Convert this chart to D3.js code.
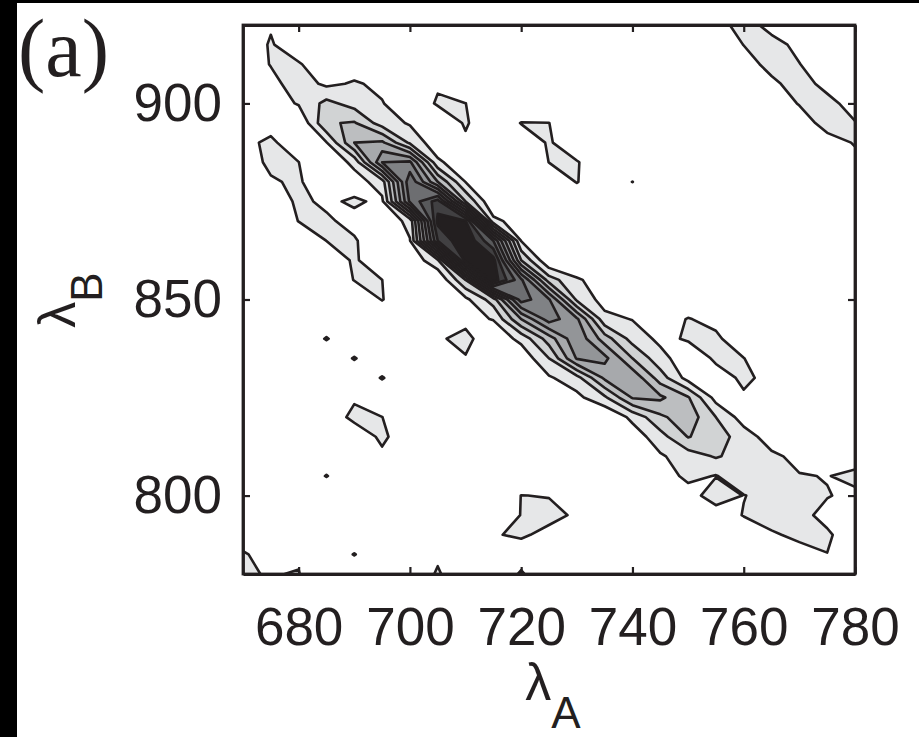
<!DOCTYPE html>
<html>
<head>
<meta charset="utf-8">
<script src="https://cdn.jsdelivr.net/npm/d3@7"></script>
<style>
  body { margin: 0; background: #fff; }
  svg text { font-family: "Liberation Sans", Arial, Helvetica, sans-serif; fill: #231f20; }
</style>
</head>
<body>
<script>
// grid of the map: lambda A along columns, lambda B along rows (top row = 920)
var lambdaA = [670, 675, 680, 685, 690, 695, 700, 705, 710, 715, 720, 725,
               730, 735, 740, 745, 750, 755, 760, 765, 770, 775, 780];
var lambdaB = [920, 915, 910, 905, 900, 895, 890, 885, 880, 875, 870, 865, 860, 855, 850,
               845, 840, 835, 830, 825, 820, 815, 810, 805, 800, 795, 790, 785, 780];

// contour levels
var levels = [1, 2, 3, 4, 5, 6, 7, 8, 9, 10];

var xTicks = [680, 700, 720, 740, 760, 780];
var yTicks = [800, 850, 900];

// values, one row per lambda B
var zRows = [
  [0.3,0.9,0.3,0.3,0.3,0.3,0.3,0.3,0.3,0.3,0.3,0.3,0.3,0.3,0.3,0.3,0.3,0.5,1.5,0.6,0.3,0.3,0.3],
  [0.3,1.1,0.3,0.3,0.3,0.3,0.3,0.3,0.3,0.3,0.3,0.3,0.3,0.3,0.3,0.3,0.3,0.3,1.02,1.4,0.7,0.3,0.3],
  [0.3,1.05,1.1,0.3,0.5,0.3,0.3,0.3,0.3,0.3,0.3,0.3,0.3,0.3,0.3,0.3,0.3,0.3,0.6,1.3,1.03,0.3,0.3],
  [0.3,0.68,1.5,0.8,1.1,0.8,0.3,0.9,0.3,0.3,0.3,0.3,0.3,0.3,0.3,0.3,0.3,0.3,0.3,0.8,1.4,0.7,0.3],
  [0.3,0.4,1.1,2.3,1.6,1.05,0.35,1.1,1.01,0.3,0.3,0.3,0.3,0.3,0.3,0.3,0.3,0.3,0.3,0.5,1.05,1.3,0.6],
  [0.3,0.7,0.0,2.9,3.1,1.5,0.89,0.3,1.1,0.3,1.03,1.01,0.3,0.3,0.3,0.3,0.3,0.3,0.3,0.3,0.6,1.3,1.05],
  [0.8,1.15,0.5,0.95,4.0,4.2,1.8,0.31,0.85,0.3,0.5,1.08,0.5,0.3,0.3,0.3,0.3,0.3,0.3,0.3,0.3,0.7,1.05],
  [0.5,1.2,1.01,0.1,1.3,6.0,6.2,1.2,0.27,0.3,0.3,1.01,1.05,0.5,0.3,0.3,0.3,0.3,0.3,0.3,0.3,0.3,0.8],
  [0.3,0.9,1.15,0.1,0.5,1.5,7.8,4.0,0.98,0.3,0.3,0.5,1.03,0.5,1.01,0.3,0.3,0.3,0.3,0.3,0.3,0.3,0.3],
  [0.3,0.3,1.2,0.82,1.15,0.8,7.2,9.5,3.0,0.0,0.3,0.3,0.5,0.3,0.3,0.3,0.3,0.3,0.3,0.3,0.3,0.3,0.3],
  [0.3,0.3,1.02,1.15,0.7,0.25,1.3,10.3,10.1,1.3,0.46,0.3,0.3,0.3,0.3,0.3,0.3,0.3,0.3,0.3,0.3,0.3,0.3],
  [0.3,0.3,0.3,1.01,1.1,0.3,0.95,9.0,11.0,8.0,0.95,0.3,0.3,0.3,0.3,0.3,0.3,0.3,0.3,0.3,0.3,0.3,0.3],
  [0.3,0.3,0.3,0.5,1.1,0.5,0.2,1.8,10.5,10.4,3.0,0.05,0.3,0.3,0.3,0.3,0.3,0.3,0.3,0.3,0.3,0.3,0.3],
  [0.3,0.3,0.3,0.3,1.03,1.005,0.3,0.06,3.0,10.6,7.2,2.5,1.1,0.63,0.3,0.3,0.3,0.3,0.3,0.3,0.3,0.3,0.3],
  [0.3,0.3,0.3,0.3,0.3,1.04,0.3,0.3,0.75,2.5,7.5,6.1,1.8,0.6,0.3,0.3,0.3,0.3,0.3,0.3,0.3,0.3,0.3],
  [0.3,0.3,0.3,0.3,0.3,0.3,0.3,0.4,0.7,1.05,4.0,6.5,5.2,1.3,0.96,0.5,1.05,0.71,0.3,0.3,0.3,0.3,0.3],
  [0.3,0.3,0.3,1.06,0.3,0.3,0.3,0.86,1.3,0.25,1.3,3.5,5.8,3.5,1.6,0.76,1.1,1.2,0.3,0.3,0.3,0.3,0.3],
  [0.3,0.3,0.3,0.3,1.06,0.3,0.3,0.5,0.93,0.3,0.25,2.0,5.1,5.3,3.0,1.35,0.37,1.15,1.02,0.3,0.3,0.3,0.3],
  [0.3,0.3,0.3,0.3,0.3,1.06,0.3,0.3,0.3,0.3,0.3,0.87,1.6,4.2,4.8,2.5,0.59,0.63,1.15,0.77,0.3,0.3,0.3],
  [0.3,0.3,0.3,0.3,0.9,0.3,0.3,0.3,0.3,0.3,0.3,0.3,0.73,1.8,4.1,4.2,3.1,0.61,0.9,0.3,0.3,0.3,0.3],
  [0.3,0.3,0.3,0.5,1.2,1.01,0.3,0.3,0.3,0.3,0.3,0.3,0.3,0.0,1.27,2.8,3.6,2.0,0.53,0.3,0.3,0.3,0.3],
  [0.3,0.3,0.3,0.3,0.5,1.15,0.5,0.3,0.3,0.3,0.3,0.3,0.3,0.3,0.4,1.6,3.05,2.5,1.5,0.5,0.3,0.3,0.3],
  [0.3,0.3,0.3,0.3,0.3,0.85,0.3,0.3,0.3,0.3,0.3,0.3,0.3,0.3,0.3,0.87,1.5,2.1,1.6,1.2,0.73,0.5,0.6],
  [0.3,0.3,0.3,1.04,0.3,0.3,0.3,0.3,0.3,0.3,0.5,0.5,0.3,0.3,0.3,0.4,1.28,0.95,1.6,1.5,1.05,0.97,1.2],
  [0.3,0.3,0.3,0.3,0.3,0.3,0.3,0.3,0.3,0.4,1.01,0.97,0.5,0.3,0.3,0.3,0.5,1.58,0.97,1.3,1.02,1.035,0.84],
  [0.3,0.3,0.3,0.3,0.3,0.3,0.3,0.3,0.3,0.5,1.02,1.2,0.9,0.3,0.3,0.3,0.3,0.4,1.05,1.35,1.2,0.8,0.5],
  [0.5,0.3,0.3,0.3,0.3,0.3,0.3,0.3,0.3,0.95,1.1,0.8,0.3,0.3,0.3,0.3,0.3,0.3,0.3,0.9,1.18,1.1,0.6],
  [1.1,0.6,0.9,0.3,1.04,0.3,0.3,0.85,0.3,0.3,0.6,0.3,0.3,0.3,0.3,0.3,0.3,0.3,0.3,0.3,0.7,0.99,0.97],
  [1.05,0.97,1.03,0.3,0.3,0.3,0.3,1.1,0.3,0.3,1.1,0.3,0.3,0.3,0.3,0.3,0.3,0.3,0.3,0.3,0.3,0.3,0.3]
];

// grey ramp, lightest for the lowest level
var levelColors = ["#e6e7e8", "#d1d3d4", "#bcbec0", "#a7a9ac", "#939598",
                   "#808285", "#6d6e71", "#58595b", "#414042", "#231f20"];

var width = 919, height = 737;
var plot = { left: 243, right: 855, top: 25, bottom: 574 };

var svg = d3.select("body").append("svg")
  .attr("width", width)
  .attr("height", height);

// black strips at the edge of the scanned figure
svg.append("rect").attr("x", 0).attr("y", 0).attr("width", 17).attr("height", height).attr("fill", "#000");
svg.append("rect").attr("x", 0).attr("y", 0).attr("width", width).attr("height", 3).attr("fill", "#000");

var x = d3.scaleLinear().domain([670, 780]).range([plot.left, plot.right]);
var y = d3.scaleLinear().domain([780, 920]).range([plot.bottom, plot.top]);

var nx = lambdaA.length, ny = lambdaB.length;
var values = [];
zRows.forEach(function(r) { values = values.concat(r); });

// d3.contours puts grid point i at i + 0.5
var gx = d3.scaleLinear().domain([0.5, nx - 0.5]).range([lambdaA[0], lambdaA[nx - 1]]);
var gy = d3.scaleLinear().domain([0.5, ny - 0.5]).range([lambdaB[0], lambdaB[ny - 1]]);

var proj = d3.geoTransform({
  point: function(px, py) { this.stream.point(x(gx(px)), y(gy(py))); }
});
var path = d3.geoPath(proj);

var contours = d3.contours()
  .size([nx, ny])
  .thresholds(levels)(values);

svg.append("clipPath").attr("id", "plotclip")
  .append("rect")
  .attr("x", plot.left).attr("y", plot.top)
  .attr("width", plot.right - plot.left).attr("height", plot.bottom - plot.top);

svg.append("g")
  .attr("clip-path", "url(#plotclip)")
  .selectAll("path")
  .data(contours)
  .enter().append("path")
  .attr("d", path)
  .attr("fill", function(d, i) { return levelColors[i]; })
  .attr("stroke", "#231f20")
  .attr("stroke-width", 2.6)
  .attr("stroke-linejoin", "round");

// axes, ticks pointing inward on all four sides
var tickLen = 7;

svg.append("g")
  .attr("transform", "translate(0," + plot.bottom + ")")
  .call(d3.axisBottom(x).tickValues(xTicks).tickSize(-tickLen).tickSizeOuter(0).tickPadding(33));

svg.append("g")
  .attr("transform", "translate(" + plot.left + ",0)")
  .call(d3.axisLeft(y).tickValues(yTicks).tickSize(-tickLen).tickSizeOuter(0).tickPadding(21));

svg.append("g")
  .attr("transform", "translate(0," + plot.top + ")")
  .call(d3.axisTop(x).tickValues(xTicks).tickSize(-tickLen).tickSizeOuter(0).tickFormat(""));

svg.append("g")
  .attr("transform", "translate(" + plot.right + ",0)")
  .call(d3.axisRight(y).tickValues(yTicks).tickSize(-tickLen).tickSizeOuter(0).tickFormat(""));

svg.selectAll(".tick line").attr("stroke", "#231f20").attr("stroke-width", 2.2);
svg.selectAll(".domain").attr("stroke", "#231f20").attr("stroke-width", 2.8);
svg.selectAll(".tick text")
  .attr("fill", "#231f20")
  .style("font-size", "53px")
  .style("font-family", "'Liberation Sans', Arial, sans-serif");

// frame
svg.append("rect")
  .attr("x", plot.left).attr("y", plot.top)
  .attr("width", plot.right - plot.left).attr("height", plot.bottom - plot.top)
  .attr("fill", "none")
  .attr("stroke", "#231f20")
  .attr("stroke-width", 2.8);

// axis labels
var xl = svg.append("text")
  .attr("x", (plot.left + plot.right) / 2 + 4)
  .attr("y", 700)
  .attr("text-anchor", "middle")
  .style("font-size", "52px");
xl.append("tspan").text("λ");
xl.append("tspan").attr("dy", 28).style("font-size", "44px").text("A");

var yl = svg.append("text")
  .attr("transform", "translate(75," + 300 + ") rotate(-90)")
  .attr("text-anchor", "middle")
  .style("font-size", "52px");
yl.append("tspan").text("λ");
yl.append("tspan").attr("dy", 27).style("font-size", "44px").text("B");

// panel label
svg.append("text")
  .attr("x", 18)
  .attr("y", 76)
  .style("font-family", "'Liberation Serif', 'Times New Roman', serif")
  .style("font-size", "82px")
  .text("(a)");
</script>
</body>
</html>
